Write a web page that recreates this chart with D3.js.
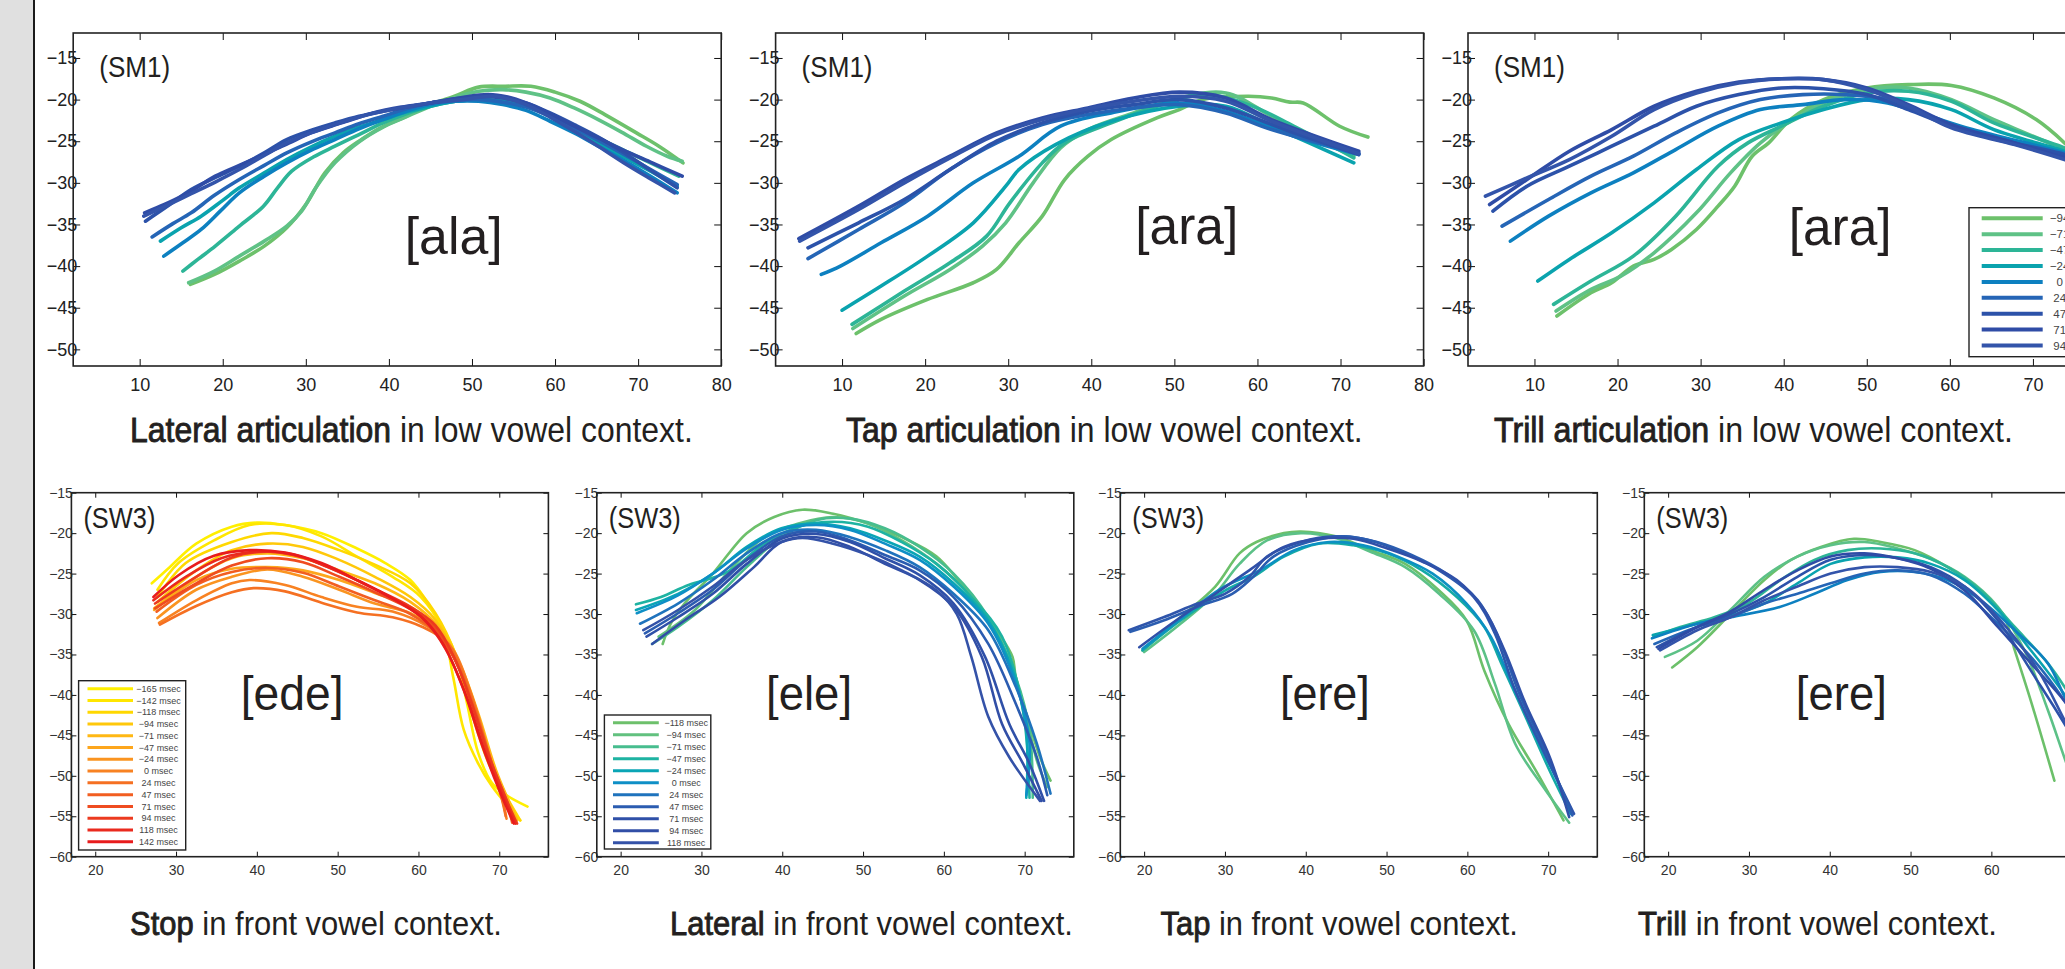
<!DOCTYPE html>
<html>
<head>
<meta charset="utf-8">
<script src="https://cdn.jsdelivr.net/npm/d3@7"></script>
<style>
  body { margin: 0; background: #fff; overflow: hidden; }
  svg { display: block; font-family: "Liberation Sans", Arial, sans-serif; }
</style>
</head>
<body>
<script>
/* Tick values. */
const topXTicks = [10, 20, 30, 40, 50, 60, 70, 80]
const topYTicks = [-15, -20, -25, -30, -35, -40, -45, -50]
const bottomXTicks = [20, 30, 40, 50, 60, 70]
const bottomYTicks = [-15, -20, -25, -30, -35, -40, -45, -50, -55, -60]

/* Legend labels. */
const sm1Labels = ["−94 msec", "−71 msec", "−47 msec", "−24 msec", "0 msec", "24 msec", "47 msec", "71 msec", "94 msec"]
const edeLabels = ["−165 msec", "−142 msec", "−118 msec", "−94 msec", "−71 msec", "−47 msec", "−24 msec", "0 msec", "24 msec", "47 msec", "71 msec", "94 msec", "118 msec", "142 msec"]
const eleLabels = ["−118 msec", "−94 msec", "−71 msec", "−47 msec", "−24 msec", "0 msec", "24 msec", "47 msec", "71 msec", "94 msec", "118 msec"]

/* Series colours. */
const sm1Colors = ["#6dc16b", "#5fc286", "#2db597", "#0aa3ae", "#0d80c0", "#2565b6", "#2c52a9", "#2f4ca6", "#3354aa"]
const edeColors = ["#ffef00", "#ffe600", "#ffd800", "#ffc80a", "#ffb814", "#fda61c", "#fa9420", "#f88222", "#f57022", "#f25e21", "#ef4c20", "#ec3a1f", "#ea2a1e", "#e81c1d"]
const eleColors = ["#6dc06b", "#62c17f", "#47bd8e", "#1eb3a2", "#0aa5b5", "#0e8fc6", "#1f73bd", "#2b5cb0", "#2f50a8", "#314ea6", "#3452a8"]
const tapEreColors = ["#6cc06a", "#5cc187", "#14aaa6", "#0c90c2", "#2f55ab", "#2b5db0", "#3050a8"]
const trillEreColors = ["#6cc06a", "#5cc187", "#2db597", "#0aa3ae", "#0d80c0", "#2565b6", "#2c52a9", "#2f4ca6", "#3354aa"]

/* Tongue contours, [x, y] per point. */
const alaCurves = [
  [[16.1,-42.2],[19,-41],[22,-39.4],[25,-37.6],[27.7,-35.4],[30,-32.6],[32.3,-28.8],[34.5,-26.4],[36.4,-25],[39,-23.4],[42.1,-22],[45,-20.6],[47.9,-19.6],[50.8,-18.5],[54,-18.4],[57.1,-18.4],[60,-19.1],[63,-20.2],[66,-21.8],[69.8,-24],[72.5,-25.6],[75.4,-27.6]],
  [[15.9,-42],[19,-40.6],[22,-38.8],[25,-37],[27.7,-35.2],[29.5,-33.4],[31.2,-30.6],[33.5,-27.6],[36.5,-25],[39.3,-23.3],[42,-22.1],[45,-20.8],[48,-19.7],[50.8,-19],[53.7,-18.8],[56.5,-19.1],[59.4,-19.8],[62.3,-21],[65.2,-22.4],[68,-23.9],[71,-25.6],[73.5,-26.8],[75.3,-27.4]],
  [[15.2,-40.6],[17,-39.2],[19.1,-37.6],[22,-35.2],[24.9,-32.8],[26.6,-30.6],[28.3,-28.6],[30.9,-26.9],[33.5,-25.6],[36.4,-24.2],[39.3,-22.8],[42.1,-21.7],[45,-20.8],[48,-20.2],[50.8,-20],[53,-20.1],[55.4,-20.5],[58.8,-21.6],[62.3,-23.2],[65.2,-24.6],[68.1,-26],[71.5,-27.6],[74.9,-29.2]],
  [[12.5,-37],[15,-35.4],[17.4,-34],[20,-32.1],[22,-30.6],[25,-28.8],[27.7,-27.2],[30.6,-25.7],[33.5,-24.4],[36.4,-23.3],[39.3,-22.4],[42.1,-21.5],[45,-20.8],[48,-20.2],[50.8,-20],[53.7,-20.2],[56.5,-20.8],[59.4,-22],[62.3,-23.6],[65.2,-25.2],[68.1,-26.8],[71.5,-28.6],[74.7,-30.4]],
  [[12.9,-38.8],[15.2,-37.2],[17.4,-35.6],[19.7,-33.4],[22,-31.2],[25,-29.2],[27.7,-27.6],[30.6,-26.1],[33.5,-24.8],[36.4,-23.5],[39.3,-22.4],[42.1,-21.4],[45,-20.6],[48,-20.2],[50.8,-20.2],[53.7,-20.6],[56.5,-21.3],[59.4,-22.6],[62.3,-24],[65.2,-25.6],[68.1,-27.2],[71.5,-29.2],[74.7,-31.2]],
  [[11.5,-36.5],[14,-34.9],[16.2,-33.6],[19,-31.5],[22,-29.6],[25,-27.9],[27.7,-26.4],[30.6,-25.1],[33.5,-24],[36.4,-22.9],[39.3,-22],[42.1,-21.1],[45,-20.4],[48,-20.1],[50.8,-20],[53.7,-20.3],[56.5,-20.9],[59.4,-22],[62.3,-23.4],[65.2,-24.9],[68.5,-26.7],[71.5,-28.4],[74.7,-30.2]],
  [[10.7,-34.6],[13.5,-32.7],[16.2,-30.8],[19,-29.4],[22,-28],[25,-26.4],[27.7,-24.8],[30.6,-23.7],[33.5,-22.8],[36.4,-22],[39.3,-21.4],[42.1,-20.9],[45,-20.4],[48,-19.9],[50.8,-19.6],[53.7,-19.8],[56.5,-20.4],[59.4,-21.6],[62.3,-23],[65.2,-24.5],[68.5,-26.5],[71.5,-28.5],[74.7,-30.6]],
  [[10.6,-33.6],[13,-32.6],[15.1,-31.6],[17,-30.5],[19.1,-29.2],[22,-27.9],[25.4,-26.4],[28,-25.2],[30.6,-24],[34.3,-22.8],[38.1,-21.6],[41.5,-20.9],[45,-20.4],[48.5,-19.8],[52,-19.4],[54.3,-19.7],[56.5,-20.4],[59.4,-21.7],[62.3,-23.2],[65.2,-24.6],[68.1,-26],[71.7,-27.6],[75.3,-29.2]],
  [[10.5,-34],[13.3,-32.7],[16.2,-31.3],[19.1,-29.9],[22,-28.4],[25,-26.7],[27.7,-25.2],[30.6,-24],[33.5,-23],[36.4,-22.1],[39.3,-21.4],[42.2,-20.9],[45,-20.4],[48.8,-20],[52.6,-19.6],[54.6,-20],[56.5,-20.6],[59.4,-22.1],[62.3,-23.8],[65.2,-25.6],[68.3,-27.6],[71.3,-29.4],[74.4,-31.2]]
]

const araTapCurves = [
  [[11.7,-48.1],[14.7,-46.4],[20.3,-44],[25.8,-42],[28.6,-40.4],[31.3,-37.2],[34.1,-34],[36.8,-29.6],[39.6,-26.8],[42.4,-24.8],[47.9,-22.2],[50.6,-21.2],[53.4,-20],[58.9,-19.6],[61.7,-19.8],[63.9,-20.3],[65.5,-20.4],[69.9,-23.2],[73.3,-24.5]],
  [[11.3,-47.5],[17.5,-43.6],[23,-40.4],[26.9,-37.6],[29.7,-34.8],[33,-30],[36.3,-25.8],[39.6,-23.6],[45.1,-21.6],[50.6,-19.8],[56.2,-19.2],[61.7,-22],[67.2,-24.8],[71.6,-26.8]],
  [[11.2,-47],[17.5,-43],[23,-39.6],[27.4,-36.4],[30.2,-32.4],[34.1,-27.6],[36.8,-25.2],[42.4,-22.8],[47.9,-20.8],[53.4,-19.4],[58.9,-20.6],[64.4,-23.2],[71.6,-27]],
  [[10,-45.3],[14.7,-42.4],[20.3,-38.8],[25.8,-34.8],[29.7,-30.4],[31.3,-28.4],[35.7,-25.4],[42.4,-22.6],[50.6,-20.8],[56.2,-20.8],[61.7,-23.2],[71.6,-27.6]],
  [[7.5,-41],[9.8,-40],[14.7,-37.2],[20.3,-34],[25.8,-30],[31.3,-26.8],[36.3,-23.2],[42.4,-21.6],[50.6,-20.4],[56.2,-21.4],[64.4,-24.4],[72.2,-26.6]],
  [[5.9,-39.1],[12,-35.6],[17.5,-32.4],[23,-28.4],[28.6,-25.2],[34.1,-23],[39.6,-21.8],[45.1,-21],[50.6,-20.6],[56.2,-21.6],[61.7,-23.6],[72.2,-26.4]],
  [[5.9,-37.8],[12,-34.8],[17.5,-32],[23,-28.4],[28.6,-25],[34.1,-22.8],[39.6,-21.4],[45.1,-20.6],[50.6,-20],[56.2,-21],[64.4,-24],[72.2,-26.6]],
  [[4.8,-36.7],[12,-32.8],[17.5,-29.6],[23,-26.8],[28.6,-24],[34.1,-22.2],[39.6,-21],[45.1,-19.8],[50.6,-19.1],[56.2,-19.8],[61.7,-22.4],[72.2,-26.2]],
  [[4.9,-37],[12,-33.2],[17.5,-30],[23,-27],[28.6,-24.2],[34.1,-22.4],[39.6,-21.1],[45.1,-20.2],[50.6,-19.6],[56.2,-20.2],[61.7,-22.6],[72.2,-26.5]]
]

const araTrillCurves = [
  [[12.7,-46],[16.8,-43.2],[19.3,-42],[21.9,-40],[24.4,-39.2],[26.5,-38],[29.5,-35.6],[32.1,-32.8],[34.1,-30.4],[36.2,-26.8],[38.2,-25.2],[40.8,-22.4],[44.8,-20],[50,-18.6],[55,-18.2],[60.2,-18.3],[65.3,-19.8],[70.4,-22.4],[73.8,-25.2],[75.5,-27]],
  [[12.6,-45.4],[16.8,-42.8],[20.4,-41.2],[24.4,-38.4],[29.5,-33.6],[33.6,-28.8],[37.2,-25.2],[40.8,-22.6],[44.8,-20.4],[50,-18.8],[55,-18.6],[60.2,-20],[65.3,-22.4],[73.8,-26],[75.5,-26.8]],
  [[12.3,-44.6],[16.8,-41.8],[21.9,-38.8],[27,-34],[32.1,-28],[35.7,-25.2],[39.7,-23.2],[44.8,-20.8],[50,-19.2],[55,-19],[60.2,-20.2],[65.3,-22.8],[73.8,-25.8],[75.5,-26.6]],
  [[10.4,-41.8],[14.2,-39.2],[19.3,-36],[24.4,-32.4],[29.5,-28.4],[34.6,-24.8],[39.7,-22.8],[44.8,-21.2],[50,-20],[55,-20],[60.2,-21.2],[65.3,-23.6],[73.8,-26.2],[75.5,-26.9]],
  [[7.1,-37],[11.7,-34],[16.8,-31.2],[21.9,-28.8],[27,-26],[32.1,-23.2],[37.2,-21.2],[42.3,-20.6],[47.4,-20],[52.5,-20.4],[57.6,-22],[62.7,-23.6],[73.8,-26.4],[75.5,-27]],
  [[6.1,-35.2],[11.7,-32],[16.8,-29.2],[21.9,-26.8],[27,-24],[32.1,-21.6],[37.2,-20],[42.3,-19.4],[47.4,-19.4],[52.5,-20],[57.6,-22],[62.7,-24],[73.8,-26.8],[75.5,-27.3]],
  [[5,-33.4],[9.1,-30.4],[14.2,-28],[19.3,-25.6],[24.4,-23.2],[29.5,-20.8],[34.6,-19.4],[39.7,-18.6],[44.8,-18.7],[50,-19.4],[55,-21.2],[60.2,-23.2],[67.8,-25.2],[73.8,-26.6],[75.5,-27.2]],
  [[4.6,-32.6],[9.1,-29.6],[14.2,-26.2],[19.3,-23.6],[24.4,-20.8],[29.5,-19],[34.6,-17.9],[39.7,-17.5],[44.8,-17.6],[50,-18.6],[55,-20.6],[60.2,-23],[67.8,-25.2],[73.8,-27],[75.5,-27.6]],
  [[4.1,-31.6],[9.1,-29.4],[14.2,-27.2],[19.3,-24.4],[24.4,-21.2],[29.5,-19.2],[34.6,-18],[39.7,-17.5],[44.8,-17.6],[50,-18.8],[55,-20.8],[60.2,-23.4],[67.8,-25.4],[73.8,-27.2],[75.5,-27.8]]
]

const edeCurves = [
  [[27,-26.2],[29,-24.4],[32.5,-21.3],[36.9,-19.2],[40,-18.7],[43.5,-19],[48,-20],[52.4,-21.9],[55.9,-23.7],[59,-25.8],[61.2,-28.7],[63.4,-32.4],[64.7,-35.3],[66,-41],[67.4,-47.2],[69.1,-50.9],[70.9,-52.4],[73.5,-53.8]],
  [[27.7,-27],[30.3,-23.7],[34.7,-20.9],[39.1,-19],[43.5,-19],[48,-20.4],[52.4,-22.9],[56.8,-25.4],[60.3,-27.9],[63,-32],[64.3,-37.8],[65.6,-44.3],[67.4,-48.5],[69.1,-51.3],[71.8,-54.6],[72.6,-55.5]],
  [[27.7,-27.9],[31.2,-23.7],[36.9,-21.1],[41.8,-20],[45.7,-20.6],[50.2,-22.1],[54.6,-23.9],[59,-26.2],[62.1,-29.9],[64.7,-35.3],[66.5,-41.9],[68.7,-48.5],[70.9,-52.6],[72.6,-55.5]],
  [[27.7,-28.5],[32.5,-24.6],[36.9,-22.1],[41.3,-21.3],[45.7,-21.7],[50.2,-23.3],[54.6,-25.4],[59,-27.9],[62.1,-30.7],[64.7,-35.3],[66.9,-41.9],[69.1,-48.5],[70.9,-52.6],[72.2,-55.5]],
  [[27.3,-29.3],[32.5,-25.4],[36.9,-23.1],[41.3,-22.5],[45.7,-23.1],[50.2,-24.6],[54.6,-26.2],[59,-28.5],[62.5,-31.6],[65.1,-36.1],[67.4,-42.3],[69.6,-49.3],[71.3,-53.4],[72.2,-55.5]],
  [[27.3,-29.5],[32.5,-25.8],[36.9,-24.4],[41.3,-24.2],[45.7,-24.6],[50.2,-25.8],[54.6,-27.4],[59,-29.1],[62.5,-32],[65.1,-36.9],[67.4,-43.5],[69.6,-50.1],[71.3,-54.2],[71.8,-55.3]],
  [[27.7,-30.5],[32.5,-27],[36.9,-25.4],[41.3,-24.5],[45.7,-25.4],[50.2,-27],[54.6,-28.7],[59,-29.9],[62.1,-32],[64.7,-35.7],[66.9,-41],[69.1,-48.5],[70.9,-53.4],[71.8,-55.3]],
  [[27.9,-31.1],[32.5,-28.3],[36.9,-26.2],[39.1,-25.8],[43.5,-26.4],[48,-27.9],[52.4,-29.1],[56.8,-29.7],[61.2,-31.6],[64.3,-34.4],[66.5,-39.8],[68.7,-47.2],[70.5,-53.4],[70.9,-55.3]],
  [[28,-31.3],[32.5,-29],[36.9,-27.3],[39.6,-26.8],[43.5,-27.2],[48,-28.6],[52.4,-29.8],[56.8,-30.4],[60.5,-31.6],[63.6,-33.6],[66,-38.6],[68.3,-46],[70.3,-52.8],[70.8,-55]],
  [[27.6,-29.7],[32.5,-26.4],[36.9,-24.8],[41.3,-24.3],[45.7,-24.9],[50.2,-26.6],[54.6,-28.3],[59,-30],[62.3,-32.4],[64.9,-36.4],[67.2,-42.6],[69.4,-49.5],[71.2,-54.3],[71.6,-55.8]],
  [[27.4,-29.3],[32.5,-26.2],[36.9,-24],[41.3,-23.1],[45.7,-23.6],[50.2,-25.4],[54.6,-27.3],[59,-29.4],[62.1,-31.8],[64.5,-35.6],[66.9,-41.9],[69.1,-48.5],[70.9,-53],[71.8,-55.7]],
  [[27.4,-28.7],[32.5,-25.4],[36.9,-23],[41.3,-22.3],[45.7,-23],[50.2,-24.8],[54.6,-26.9],[59,-29.1],[62.1,-31.4],[64.3,-35.1],[66.5,-40.8],[68.7,-47.6],[70.9,-53],[72.2,-55.9]],
  [[27.2,-28.3],[31.2,-25.4],[35.6,-23.1],[40,-22.3],[44.4,-22.6],[48.8,-24.2],[53.2,-26.2],[57.6,-28.5],[60.7,-30.7],[63.4,-34.4],[66.1,-40.6],[68.3,-47.2],[70.5,-52.6],[72,-55.9]],
  [[27.2,-27.9],[30.3,-25.2],[34.7,-22.8],[39.1,-22.1],[43.5,-22.4],[48,-23.7],[52.4,-25.8],[56.8,-28.1],[60.3,-30.3],[63,-33.6],[65.6,-39.4],[67.8,-46],[70,-51.8],[71.8,-55.9]]
]

const eleCurves = [
  [[25.2,-33.7],[26.2,-31.2],[27.9,-28.7],[31.4,-25],[35.6,-20],[39,-18],[42.5,-17.1],[46.3,-17.6],[50.6,-18.8],[54.8,-20.5],[59.1,-22.9],[63.4,-27.9],[66.8,-32.4],[68.5,-35.3],[68.9,-37.8],[70.6,-43.6],[71.9,-47.7],[73.2,-50.6]],
  [[24.7,-32.8],[29.2,-29.5],[33.5,-24.6],[37.8,-20.5],[42,-18.8],[46.3,-18],[50.6,-18.8],[54.8,-20.9],[59.1,-23.8],[63.4,-27.9],[66.8,-32.8],[69.8,-41.1],[71.5,-48.1],[72.8,-51.4]],
  [[23.9,-33.7],[27.1,-31.6],[31.4,-28.3],[35.6,-24.2],[39.9,-20.5],[44.2,-18.4],[48.4,-18.2],[52.7,-19.4],[57,-21.7],[61.2,-25],[65.5,-30.4],[68.9,-37.8],[70.6,-44.4],[71,-52.7]],
  [[21.9,-28.8],[25,-27.9],[28.4,-26.4],[31.8,-25.4],[33.9,-24.4],[37.8,-21.3],[42,-19.2],[46.3,-18.6],[50.6,-19.2],[54.8,-21.1],[59.1,-23.8],[63.4,-27.9],[67.2,-32.8],[69.8,-42],[70.6,-52.7]],
  [[21.9,-29.5],[27.1,-27.5],[31.4,-25],[35.6,-21.7],[39.9,-19.4],[44.2,-18.8],[48.4,-19.4],[52.7,-20.9],[57,-22.9],[61.2,-26.2],[65.5,-30.8],[68.5,-37],[70.2,-44.4],[70.2,-52.7]],
  [[22,-29.9],[27.1,-27.7],[31.4,-25],[35.6,-21.9],[39.9,-19.6],[44.2,-19],[48.4,-19.6],[52.7,-21.3],[57,-23.3],[61.2,-26.6],[65.5,-31.2],[68.9,-38.6],[70.6,-46],[70.2,-52.4]],
  [[22.4,-31.2],[27.1,-28.7],[31.4,-25.8],[35.6,-22.5],[39.9,-20],[44.2,-19.6],[48.4,-20.5],[52.7,-22.1],[57,-24.2],[61.2,-27.5],[65.5,-32],[68.9,-39],[71.5,-46],[73.2,-52.2]],
  [[23,-32.4],[27.1,-29.9],[31.4,-27],[35.6,-23.3],[39.9,-20.4],[44.2,-19.8],[48.4,-20.9],[52.7,-22.7],[57,-24.6],[61.2,-27.9],[65.5,-33.7],[68.9,-41.1],[71.5,-47.7],[72.8,-52.4]],
  [[23.2,-32.8],[27.1,-30.4],[31.4,-27.5],[35.6,-23.8],[39.9,-20.7],[44.2,-20.1],[48.4,-21.1],[52.7,-23.1],[57,-25.2],[61.2,-28.7],[65.1,-35.3],[68.1,-43.6],[70.6,-48.5],[72.4,-53.1]],
  [[23.9,-33.7],[27.9,-30.8],[32.2,-27.9],[36.5,-24.2],[39.9,-21.1],[44.2,-20.5],[48.4,-21.7],[52.7,-23.8],[57,-25.8],[61.2,-29.1],[64.7,-35.3],[67.2,-43.6],[69.8,-48.5],[72.1,-53.1]],
  [[22.8,-32],[27.1,-29.5],[31.4,-26.6],[35.6,-23.3],[39.9,-21.1],[42.5,-20.6],[46.3,-21.3],[50.6,-22.7],[54.8,-24.6],[59.1,-27.1],[61.6,-30],[63.4,-35.3],[65.5,-42.7],[68.1,-47.7],[71.9,-53.1]]
]

const tapEreCurves = [
  [[19.8,-34.5],[24.5,-30.4],[28.8,-26.6],[31.8,-22.5],[33.9,-21.1],[37.3,-20],[39.4,-19.8],[43.7,-20.4],[48,-22.1],[52.3,-23.8],[56.5,-27.1],[59.9,-30.8],[62.1,-37],[65.1,-43.6],[68.5,-49.4],[71.9,-55.5]],
  [[20,-34.7],[24.5,-31.2],[28.8,-27.5],[31.8,-23.8],[35.2,-20.9],[39.4,-20],[43.7,-20.6],[48,-22.3],[52.3,-24.2],[56.5,-27.5],[60.8,-32],[63.4,-38.6],[65.9,-46],[69.4,-51.4],[72.6,-55.8]],
  [[19.8,-34.5],[24.5,-30.8],[30,-27.1],[33.5,-25.4],[37.3,-22.9],[41.6,-21.3],[45.9,-21.5],[50.1,-22.5],[54.4,-24.6],[58.7,-27.9],[62.1,-31.6],[64.2,-36.1],[67.2,-42.7],[70.2,-49.4],[72.8,-54.7]],
  [[19.8,-34.3],[24.5,-30.6],[29.6,-26.8],[34.3,-24.6],[38.6,-22.1],[42.9,-21.1],[47.1,-21.5],[51.4,-22.9],[55.7,-25],[59.9,-28.7],[62.9,-32.8],[65.5,-38.6],[68.5,-45.2],[71.5,-51.4],[72.8,-54.7]],
  [[18.1,-32],[22.4,-30.4],[26.6,-28.7],[30,-27.5],[33,-25.4],[35.2,-22.9],[39.4,-21.1],[43.7,-20.4],[48,-20.9],[52.3,-22.5],[56.5,-24.6],[60.8,-27.9],[63.4,-32.4],[65.9,-39.4],[69.4,-46.9],[73.2,-54.7]],
  [[18.3,-32.2],[22.4,-30.8],[26.6,-29.1],[30.9,-27.5],[33.5,-25.4],[36,-22.9],[40.3,-21.1],[44.6,-20.4],[48.8,-21.1],[53.1,-22.7],[57.4,-25],[61.3,-28.3],[63.8,-32.8],[66.4,-39.8],[69.8,-47.3],[73,-54.9]],
  [[19.4,-34.1],[24.5,-30.4],[28.8,-27.5],[33,-24.6],[37.3,-21.7],[41.6,-20.7],[45.9,-20.7],[50.1,-21.9],[54.4,-23.5],[58.7,-25.8],[62.1,-29.5],[64.6,-34.5],[67.2,-41.1],[70.2,-47.7],[72.6,-55.1]]
]

const trillEreCurves = [
  [[20.5,-36.6],[23.6,-34.1],[27.7,-30],[31.9,-25.8],[35.2,-23.3],[38.9,-21.7],[43,-20.7],[46.3,-21.1],[50.5,-22.1],[54.6,-24.2],[58.7,-27.1],[61.6,-30.4],[62.9,-34.5],[65,-41.1],[67.8,-50.6]],
  [[19.6,-35.3],[23.6,-33.3],[27.7,-29.5],[31.9,-25.4],[36,-22.9],[40.1,-21.5],[44.3,-21.1],[48.4,-21.9],[52.5,-23.2],[56.7,-25.4],[60.8,-29.1],[64.1,-34.5],[67,-41.9],[69.3,-48.5],[71,-53]],
  [[18.2,-32.8],[21.5,-31.6],[25.7,-30.4],[29.8,-28.7],[33.9,-25.8],[38.1,-23.3],[42.2,-22.1],[46.3,-21.9],[50.5,-22.5],[54.6,-24.2],[58.7,-27.1],[62.9,-31.6],[67,-36.1],[69.3,-39.4],[72.5,-45]],
  [[18.1,-32.6],[23.6,-31.2],[27.7,-30.2],[31.9,-28.7],[36,-26.2],[40.1,-23.8],[44.3,-23],[48.4,-23],[52.5,-23.8],[56.7,-25.8],[60.8,-29.5],[64.9,-34.5],[69.3,-40.3],[72.5,-45.5]],
  [[18,-33],[23.6,-31.2],[27.7,-30.4],[33.9,-29.1],[38.1,-27.5],[42.2,-25.8],[46.3,-24.8],[50.5,-24.8],[54.6,-25.8],[58.7,-28.3],[62.9,-32],[67,-36.1],[69.3,-40.7],[72.5,-46]],
  [[18.3,-33.7],[23.6,-31.6],[27.7,-30.4],[31.9,-28.7],[36,-27.5],[40.1,-26.2],[44.3,-25],[48.4,-24.6],[52.5,-25.2],[56.7,-27.5],[60.8,-31.2],[64.9,-35.3],[69.3,-41.1],[72.5,-46.5]],
  [[18.6,-34.1],[23.6,-31.6],[27.7,-30],[31.9,-27.9],[36,-25.4],[40.1,-23.3],[44.3,-22.7],[48.4,-23.1],[52.5,-24.2],[56.7,-26.6],[60.8,-30.8],[65.4,-37.8],[69.3,-44],[72,-49]],
  [[18.8,-34.3],[23.6,-31.6],[27.7,-29.7],[31.9,-27],[36,-24.6],[40.1,-22.9],[44.3,-22.5],[48.4,-23.1],[52.5,-24.4],[56.7,-27.1],[60.8,-31.6],[64.9,-36.1],[69.3,-41.1],[72.5,-46.5]],
  [[19,-34.5],[23.6,-32],[27.7,-30.4],[31.9,-28.3],[36,-26.6],[40.1,-25],[44.3,-24.2],[48.4,-24.2],[52.5,-24.8],[56.7,-26.6],[60.8,-30.4],[65.8,-37],[69.3,-43.6],[72,-48.5]]
]

/* Define svg-size. */
const width = 2065
const height = 969

/* Create svg-element. */
const svg = d3.select("body")
  .append("svg")
  .attr("width", width)
  .attr("height", height)

/* Grey page margin on the left. */
svg.append("rect")
  .attr("x", 0).attr("y", 0)
  .attr("width", 33).attr("height", height)
  .attr("fill", "#e0e0e0")
svg.append("line")
  .attr("x1", 34).attr("x2", 34)
  .attr("y1", 0).attr("y2", height)
  .attr("stroke", "#1a1a1a")
  .attr("stroke-width", 2)

/* Squeeze a text horizontally to a measured width. */
function fitText(sel, x0, y0, targetW) {
  const w = sel.node().getComputedTextLength()
  sel.attr("transform", `translate(${x0},${y0}) scale(${targetW / w},1)`)
}

/* Panel layout. */
const topRow = { top: 33, width: 648, height: 333, xDomain: [2, 80], yDomain: [-52, -12],
  xTicks: topXTicks, yTicks: topYTicks, tick: 7, font: 18, xPad: 12, yPad: -4,
  lineW: 3.6, capSize: 35, capY: 441.5, tagSize: 29, tagDx: 26, tagY: 43.7, tagW: 71, wordSize: 51, color: "#222" }
const bottomRow = { top: 492.7, width: 477, height: 364, xDomain: [17.05, 76.08], yDomain: [-60, -15],
  xTicks: bottomXTicks, yTicks: bottomYTicks, tick: 5, font: 14, xPad: 8, yPad: -1.5,
  lineW: 2.6, capSize: 34, capY: 935, tagSize: 30, tagDx: 12, tagY: 35.3, tagW: 72, wordSize: 48, color: "#333" }

const panels = [
  { row: topRow, left: 73.2, curves: alaCurves, colors: sm1Colors, tag: "(SM1)", word: "[ala]", wordAt: [41.9, -38.5], wordW: 98,
    capBold: "Lateral articulation", capRest: " in low vowel context.", capX: [130, 693] },
  { row: topRow, left: 775.6, curves: araTapCurves, colors: sm1Colors, tag: "(SM1)", word: "[ara]", wordAt: [45.3, -37.4], wordW: 103,
    capBold: "Tap articulation", capRest: " in low vowel context.", capX: [846, 1363] },
  { row: topRow, left: 1468, curves: araTrillCurves, colors: sm1Colors, tag: "(SM1)", word: "[ara]", wordAt: [40.6, -37.5], wordW: 103,
    capBold: "Trill articulation", capRest: " in low vowel context.", capX: [1494, 2013],
    legend: { labels: sm1Labels, x: 1969, y: 207.7, w: 150, h: 149, l0: 1981.7, l1: 2042.7, tx: 2075, r0: 218.3, dr: 15.9, font: 11.5, lw: 4 } },
  { row: bottomRow, left: 71.4, curves: edeCurves, colors: edeColors, tag: "(SW3)", word: "[ede]", wordAt: [38, -41.9], wordW: 103,
    capBold: "Stop", capRest: " in front vowel context.", capX: [130, 502],
    legend: { labels: edeLabels, x: 78.6, y: 680.7, w: 107.1, h: 169.3, l0: 87.5, l1: 133, tx: 158.5, r0: 688.7, dr: 11.77, font: 9, lw: 3 } },
  { row: bottomRow, left: 596.8, curves: eleCurves, colors: eleColors, tag: "(SW3)", word: "[ele]", wordAt: [38, -41.9], wordW: 86,
    capBold: "Lateral", capRest: " in front vowel context.", capX: [670, 1073],
    legend: { labels: eleLabels, x: 604.4, y: 715, w: 106.4, h: 134, l0: 613, l1: 658.8, tx: 686.2, r0: 722.7, dr: 12, font: 9, lw: 3 } },
  { row: bottomRow, left: 1120.3, curves: tapEreCurves, colors: tapEreColors, tag: "(SW3)", word: "[ere]", wordAt: [36.8, -41.9], wordW: 90,
    capBold: "Tap", capRest: " in front vowel context.", capX: [1160.5, 1518] },
  { row: bottomRow, left: 1644.3, curves: trillEreCurves, colors: trillEreColors, tag: "(SW3)", word: "[ere]", wordAt: [35.8, -41.9], wordW: 91,
    capBold: "Trill", capRest: " in front vowel context.", capX: [1638, 1997] }
]

/* Draw one panel. */
function drawPanel(p, i) {
  const r = p.row
  const x = d3.scaleLinear().domain(r.xDomain).range([0, r.width])
  const y = d3.scaleLinear().domain(r.yDomain).range([r.height, 0])

  const g = svg.append("g")
    .attr("transform", `translate(${p.left},${r.top})`)

  g.append("clipPath").attr("id", `clip${i}`)
    .append("rect").attr("width", r.width).attr("height", r.height)

  /* Axes with inward ticks on all four sides. */
  const fmt = d3.format("d")
  const styleAxis = (a) => {
    a.select(".domain").remove()
    a.attr("font-size", r.font).attr("font-family", "Liberation Sans, Arial, sans-serif").attr("color", "#111")
    a.selectAll("text").attr("fill", r.color)
  }
  g.append("g").attr("transform", `translate(0,${r.height})`)
    .call(d3.axisBottom(x).tickValues(r.xTicks).tickFormat(fmt).tickSizeInner(-r.tick).tickSizeOuter(0).tickPadding(r.xPad))
    .call(styleAxis)
  g.append("g")
    .call(d3.axisTop(x).tickValues(r.xTicks).tickFormat("").tickSizeInner(-r.tick).tickSizeOuter(0))
    .call(styleAxis)
  g.append("g")
    .call(d3.axisLeft(y).tickValues(r.yTicks).tickFormat(fmt).tickSizeInner(-r.tick).tickSizeOuter(0).tickPadding(r.yPad))
    .call(styleAxis)
  g.append("g").attr("transform", `translate(${r.width},0)`)
    .call(d3.axisRight(y).tickValues(r.yTicks).tickFormat("").tickSizeInner(-r.tick).tickSizeOuter(0))
    .call(styleAxis)

  /* Contours. */
  const line = d3.line()
    .x(d => x(d[0]))
    .y(d => y(d[1]))
    .curve(d3.curveCatmullRom.alpha(0.5))

  g.append("g").attr("clip-path", `url(#clip${i})`)
    .selectAll("path")
    .data(p.curves)
    .enter()
    .append("path")
    .attr("d", line)
    .attr("fill", "none")
    .attr("stroke", (d, k) => p.colors[k])
    .attr("stroke-width", r.lineW)
    .attr("stroke-linejoin", "round")
    .attr("stroke-linecap", "round")

  /* Frame. */
  g.append("rect")
    .attr("width", r.width).attr("height", r.height)
    .attr("fill", "none")
    .attr("stroke", "#222")
    .attr("stroke-width", 1.6)

  /* Speaker tag and word. */
  const tag = g.append("text")
    .attr("font-size", r.tagSize)
    .attr("fill", "#231f20")
    .text(p.tag)
  fitText(tag, r.tagDx, r.tagY, r.tagW)
  const word = g.append("text")
    .attr("font-size", r.wordSize)
    .attr("fill", "#231f20")
    .text(p.word)
  fitText(word, x(p.wordAt[0]), y(p.wordAt[1]), p.wordW)

  /* Legend. */
  if (p.legend) {
    const L = p.legend
    const lg = svg.append("g")
    lg.append("rect")
      .attr("x", L.x).attr("y", L.y).attr("width", L.w).attr("height", L.h)
      .attr("fill", "#fff").attr("stroke", "#222").attr("stroke-width", 1.4)
    const rows = lg.selectAll("g.row")
      .data(L.labels)
      .enter()
      .append("g")
      .attr("class", "row")
    rows.append("line")
      .attr("x1", L.l0).attr("x2", L.l1)
      .attr("y1", (d, k) => L.r0 + k * L.dr)
      .attr("y2", (d, k) => L.r0 + k * L.dr)
      .attr("stroke", (d, k) => p.colors[k])
      .attr("stroke-width", L.lw)
    rows.append("text")
      .attr("x", L.tx)
      .attr("y", (d, k) => L.r0 + k * L.dr)
      .attr("dy", "0.35em")
      .attr("text-anchor", "middle")
      .attr("font-size", L.font)
      .attr("fill", "#444")
      .text(d => d)
  }

  /* Caption below the panel, fitted to its width; the lead words semi-bold. */
  const cap = svg.append("text")
    .attr("font-size", r.capSize)
    .attr("fill", "#231f20")
  cap.append("tspan")
    .attr("stroke", "#231f20")
    .attr("stroke-width", 0.9)
    .text(p.capBold)
  cap.append("tspan").text(p.capRest)
  fitText(cap, p.capX[0], r.capY, p.capX[1] - p.capX[0])
}

panels.forEach(drawPanel)
</script>
</body>
</html>
